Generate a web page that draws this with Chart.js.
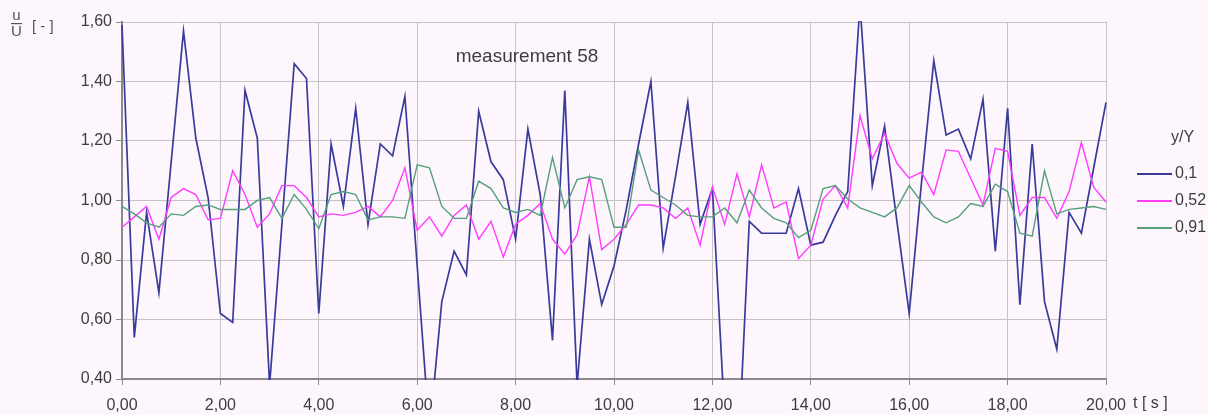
<!DOCTYPE html>
<html>
<head>
<meta charset="utf-8">
<script src="https://cdn.jsdelivr.net/npm/chart.js@4/dist/chart.umd.min.js"></script>
<style>
  html, body { margin: 0; padding: 0; background: #fdf7fd; }
  canvas { display: block; }
</style>
</head>
<body>
<canvas id="chart" width="1208" height="415"></canvas>
<script>
// time axis, one sample every 0.25 s
const TIMES = [
  0, 0.25, 0.5, 0.75, 1, 1.25, 1.5, 1.75, 2, 2.25, 2.5, 2.75, 3, 3.25, 3.5, 3.75,
  4, 4.25, 4.5, 4.75, 5, 5.25, 5.5, 5.75, 6, 6.25, 6.5, 6.75, 7, 7.25, 7.5, 7.75,
  8, 8.25, 8.5, 8.75, 9, 9.25, 9.5, 9.75, 10, 10.25, 10.5, 10.75, 11, 11.25, 11.5, 11.75,
  12, 12.25, 12.5, 12.75, 13, 13.25, 13.5, 13.75, 14, 14.25, 14.5, 14.75, 15, 15.25, 15.5, 15.75,
  16, 16.25, 16.5, 16.75, 17, 17.25, 17.5, 17.75, 18, 18.25, 18.5, 18.75, 19, 19.25, 19.5, 19.75, 20
];

// u/U at y/Y = 0,1
const U_01 = [
  1.59, 0.54, 0.96, 0.69, 1.13, 1.57, 1.21, 1.01, 0.62, 0.59, 1.37, 1.21, 0.38, 0.92, 1.46, 1.41,
  0.62, 1.19, 0.98, 1.31, 0.92, 1.19, 1.15, 1.35, 0.78, 0.22, 0.66, 0.83, 0.75, 1.30, 1.13, 1.07,
  0.87, 1.24, 1.02, 0.53, 1.37, 0.38, 0.87, 0.65, 0.78, 0.97, 1.19, 1.40, 0.84, 1.08, 1.33, 0.92,
  1.04, 0.27, 0.05, 0.93, 0.89, 0.89, 0.89, 1.04, 0.85, 0.86, 0.95, 1.03, 1.66, 1.05, 1.25, 0.93,
  0.62, 1.06, 1.47, 1.22, 1.24, 1.14, 1.34, 0.83, 1.31, 0.65, 1.19, 0.66, 0.50, 0.96, 0.89, 1.11, 1.33
];

// u/U at y/Y = 0,52
const U_052 = [
  0.91, 0.945, 0.98, 0.87, 1.01, 1.04, 1.02, 0.935, 0.94, 1.10, 1.02, 0.91, 0.955, 1.05, 1.05, 1.01,
  0.945, 0.955, 0.95, 0.96, 0.98, 0.945, 1.0, 1.11, 0.90, 0.945, 0.88, 0.95, 0.985, 0.87, 0.93, 0.81,
  0.92, 0.95, 0.99, 0.87, 0.82, 0.885, 1.08, 0.835, 0.87, 0.92, 0.985, 0.985, 0.975, 0.94, 0.975, 0.85,
  1.045, 0.92, 1.09, 0.945, 1.12, 0.975, 0.995, 0.805, 0.85, 1.005, 1.05, 0.975, 1.285, 1.14, 1.225, 1.125,
  1.075, 1.095, 1.02, 1.17, 1.165, 1.075, 0.985, 1.175, 1.165, 0.95, 1.01, 1.01, 0.94, 1.03, 1.195, 1.045, 0.995
];

// u/U at y/Y = 0,91
const U_091 = [
  0.98, 0.955, 0.925, 0.91, 0.955, 0.95, 0.98, 0.985, 0.97, 0.97, 0.97, 1.0, 1.01, 0.94, 1.02, 0.97,
  0.905, 1.02, 1.03, 1.02, 0.935, 0.945, 0.945, 0.94, 1.12, 1.11, 0.98, 0.94, 0.94, 1.065, 1.04, 0.975,
  0.96, 0.97, 0.95, 1.145, 0.975, 1.07, 1.08, 1.07, 0.91, 0.91, 1.17, 1.035, 1.01, 0.985, 0.95, 0.945,
  0.945, 0.975, 0.925, 1.035, 0.975, 0.94, 0.925, 0.875, 0.9, 1.04, 1.05, 1.005, 0.975, 0.96, 0.945, 0.975,
  1.05, 0.995, 0.945, 0.925, 0.945, 0.99, 0.98, 1.055, 1.03, 0.89, 0.88, 1.1, 0.955, 0.97, 0.975, 0.98, 0.97
];

const SERIES_NAMES = ['0,1', '0,52', '0,91'];
const SERIES_COLORS = ['#3a3a9c', '#ff3cff', '#55a07a'];
const SERIES_WIDTHS = [1.7, 1.4, 1.4];

const TITLE = 'measurement 58';
const LEGEND_TITLE = 'y/Y';
const X_UNIT = 't [ s ]';

const FONT = "'Liberation Sans', Arial, sans-serif";
const TEXT = '#3c3c3c';

const comma = (v, d) => v.toFixed(d).replace('.', ',');

function toPoints(values) {
  return values.map((y, i) => ({ x: TIMES[i], y }));
}

// extra text: title inside the plot, axis labels, legend at the right
const decorPlugin = {
  id: 'decor',
  afterDraw(chart) {
    const ctx = chart.ctx;
    ctx.save();
    ctx.fillStyle = TEXT;
    ctx.textBaseline = 'middle';

    // title
    ctx.font = `19px ${FONT}`;
    ctx.textAlign = 'center';
    ctx.fillText(TITLE, 527, 57);

    // y axis label: u over U, then [ - ]
    ctx.font = `15px ${FONT}`;
    ctx.fillStyle = '#555';
    ctx.fillText('u', 16.5, 16);
    ctx.fillText('U', 16.5, 32);
    ctx.fillRect(11, 23, 11, 1.2);
    ctx.textAlign = 'left';
    ctx.fillText('[ - ]', 32, 27);

    // x unit next to last tick label
    ctx.fillStyle = TEXT;
    ctx.font = `16px ${FONT}`;
    ctx.fillText(X_UNIT, 1133, 404);

    // legend, in series order
    ctx.fillText(LEGEND_TITLE, 1171, 138);
    const rows = [174, 201, 228];
    SERIES_NAMES.forEach((name, i) => {
      const y = rows[i];
      ctx.strokeStyle = SERIES_COLORS[i];
      ctx.lineWidth = 2;
      ctx.beginPath();
      ctx.moveTo(1137, y);
      ctx.lineTo(1172, y);
      ctx.stroke();
      ctx.fillText(name, 1175, y);
    });
    ctx.restore();
  }
};

// later series drawn on top, like the source
const datasets = [U_01, U_052, U_091].map((vals, i) => ({
  label: SERIES_NAMES[i],
  data: toPoints(vals),
  borderColor: SERIES_COLORS[i],
  borderWidth: SERIES_WIDTHS[i],
  pointRadius: 0,
  tension: 0,
  order: 3 - i,
  clip: 1
}));

const gridStyle = {
  color: '#c4c4c4',
  lineWidth: 1,
  tickColor: '#8a8a8a',
  tickLength: 6,
  drawTicks: true
};

new Chart(document.getElementById('chart'), {
  type: 'line',
  data: { datasets },
  options: {
    responsive: false,
    animation: false,
    devicePixelRatio: 1,
    layout: { padding: { left: 0, right: 102, top: 22, bottom: 0 } },
    plugins: {
      legend: { display: false },
      tooltip: { enabled: false }
    },
    scales: {
      x: {
        type: 'linear',
        min: 0,
        max: 20,
        grid: gridStyle,
        border: { color: '#8a8a8a', width: 2 },
        ticks: {
          stepSize: 2,
          padding: 11,
          maxRotation: 0,
          color: TEXT,
          font: { family: FONT, size: 16 },
          callback: (v) => comma(v, 2)
        },
        afterFit: (scale) => { scale.height = 36; }
      },
      y: {
        min: 0.4,
        max: 1.6,
        grid: gridStyle,
        border: { color: '#8a8a8a', width: 2 },
        ticks: {
          stepSize: 0.2,
          padding: 4,
          color: TEXT,
          font: { family: FONT, size: 16 },
          callback: (v) => comma(v, 2)
        },
        afterFit: (scale) => { scale.width = 122; }
      }
    }
  },
  plugins: [decorPlugin]
});
</script>
</body>
</html>
